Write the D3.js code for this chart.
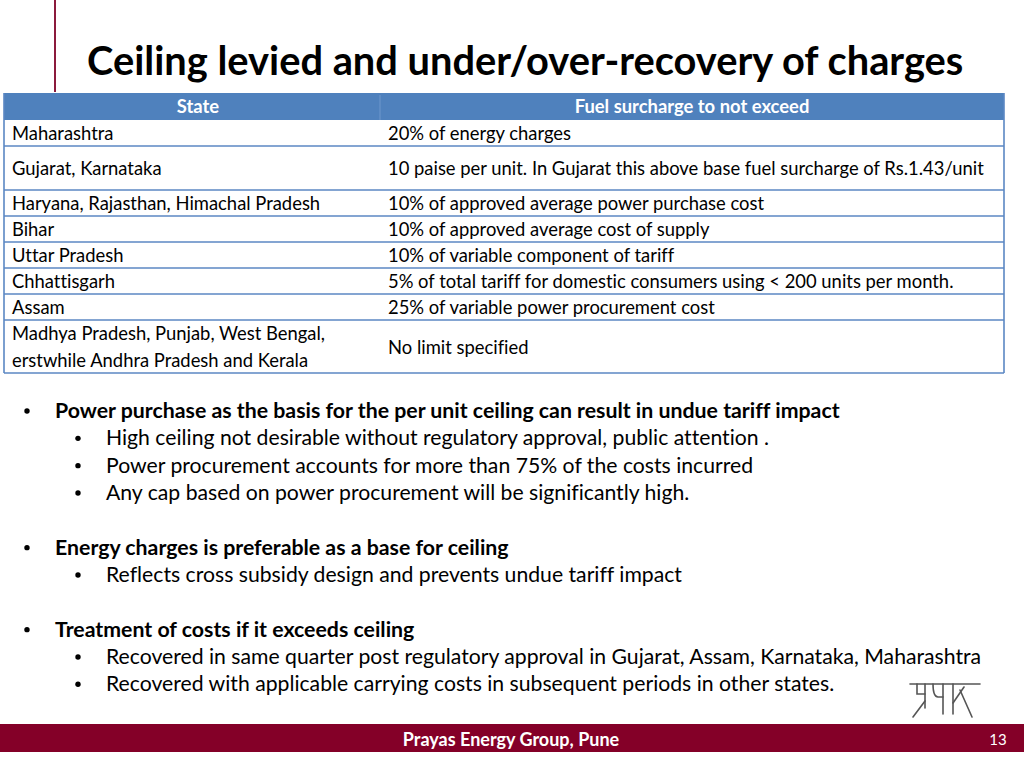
<!DOCTYPE html>
<html><head><meta charset="utf-8">
<script src="https://cdn.jsdelivr.net/npm/d3@7"></script>
<style>html,body{margin:0;padding:0;background:#fff;}svg{display:block;}text{font-variant-ligatures:none;font-feature-settings:"liga" 0;}</style>
</head><body>
<script>
// ---------- data ----------
const title = "Ceiling levied and under/over-recovery of charges";
const columns = ["State", "Fuel surcharge to not exceed"];
const states = [
  ["Maharashtra"],
  ["Gujarat, Karnataka"],
  ["Haryana, Rajasthan, Himachal Pradesh"],
  ["Bihar"],
  ["Uttar Pradesh"],
  ["Chhattisgarh"],
  ["Assam"],
  ["Madhya Pradesh, Punjab, West Bengal,", "erstwhile Andhra Pradesh and Kerala"]
];
const ceilings = [
  "20% of energy charges",
  "10 paise per unit. In Gujarat this above base fuel surcharge of Rs.1.43/unit",
  "10% of approved average power purchase cost",
  "10% of approved average cost of supply",
  "10% of variable component of tariff",
  "5% of total tariff for domestic consumers using < 200 units per month.",
  "25% of variable power procurement cost",
  "No limit specified"
];
const bulletHeads = [
  "Power purchase as the basis for the per unit ceiling can result in undue tariff impact",
  "Energy charges is preferable as a base for ceiling",
  "Treatment of costs if it exceeds ceiling"
];
const bulletSubs = [
  ["High ceiling not desirable without regulatory approval, public attention .",
   "Power procurement accounts for more than 75% of the costs incurred",
   "Any cap based on power procurement will be significantly high."],
  ["Reflects cross subsidy design and prevents undue tariff impact"],
  ["Recovered in same quarter post regulatory approval in Gujarat, Assam, Karnataka, Maharashtra",
   "Recovered with applicable carrying costs in subsequent periods in other states."]
];
const footerText = "Prayas Energy Group, Pune";
const pageNumber = "13";

// ---------- layout ----------
const W = 1024, H = 768;
const FONT = "Lato, 'Open Sans', sans-serif";
const MAROON = "#840028", BLUE = "#4f81bd", LINE = "#5b87c3";
const svg = d3.select("body").append("svg").attr("width", W).attr("height", H);

// left accent line
svg.append("line").attr("x1", 55).attr("x2", 55).attr("y1", 0).attr("y2", 92)
  .attr("stroke", "#8b1a3c").attr("stroke-width", 2);

svg.append("text").attr("x", 87).attr("y", 75).text(title)
  .attr("font-family", FONT).attr("font-weight", 700).attr("font-size", 39.8).attr("fill", "#000");

// table
const tX0 = 4, tX1 = 1004, colSplit = 380;
const headerTop = 93, headerH = 27;
const rowUnit = 26;
// row height in units (row 2 is taller, last row holds two lines)
const rowUnits = states.map((s, i) => i === 1 ? 44 / rowUnit : (s.length > 1 ? 53 / rowUnit : 1));
const cum = [0]; rowUnits.forEach(u => cum.push(cum[cum.length - 1] + u));
const y = d3.scaleLinear().domain([0, cum[cum.length - 1]])
  .range([headerTop + headerH, headerTop + headerH + cum[cum.length - 1] * rowUnit]);
const x = d3.scaleOrdinal().domain(columns).range([tX0, colSplit]);

const tbl = svg.append("g");
tbl.append("rect").attr("x", tX0).attr("y", headerTop).attr("width", tX1 - tX0).attr("height", headerH).attr("fill", BLUE);
tbl.append("line").attr("x1", colSplit).attr("x2", colSplit).attr("y1", headerTop + 2).attr("y2", headerTop + headerH)
  .attr("stroke", "#6e97cc").attr("stroke-width", 1);
tbl.selectAll("text.h").data(columns).join("text").attr("class", "h")
  .attr("x", (d, i) => i === 0 ? (tX0 + colSplit) / 2 + 6 : (colSplit + tX1) / 2)
  .attr("y", headerTop + headerH / 2 + 6.5).attr("text-anchor", "middle")
  .attr("font-family", FONT).attr("font-weight", 700).attr("font-size", 18.4).attr("fill", "#fff").text(d => d);

const rows = tbl.selectAll("g.row").data(states.map((s, i) => ({ s, c: ceilings[i], i })))
  .join("g").attr("class", "row");
rows.append("line").attr("x1", tX0).attr("x2", tX1)
  .attr("y1", d => y(cum[d.i + 1])).attr("y2", d => y(cum[d.i + 1]))
  .attr("stroke", LINE).attr("stroke-width", 1.6);
rows.each(function (d) {
  const g = d3.select(this);
  const top = y(cum[d.i]), bot = y(cum[d.i + 1]), mid = (top + bot) / 2;
  const n = d.s.length;
  d.s.forEach((line, k) => {
    g.append("text").attr("x", x(columns[0]) + 8).attr("y", mid + 6.5 + (k - (n - 1) / 2) * 27)
      .attr("font-family", FONT).attr("font-size", 18.4).attr("fill", "#000").text(line);
  });
  g.append("text").attr("x", x(columns[1]) + 8).attr("y", mid + 7)
    .attr("font-family", FONT).attr("font-size", 18.4).attr("fill", "#000").text(d.c);
});
const tBottom = y(cum[cum.length - 1]);
tbl.append("line").attr("x1", tX0).attr("x2", tX0).attr("y1", headerTop).attr("y2", tBottom).attr("stroke", LINE).attr("stroke-width", 1.6);
tbl.append("line").attr("x1", tX1).attr("x2", tX1).attr("y1", headerTop).attr("y2", tBottom).attr("stroke", LINE).attr("stroke-width", 1.6);

// bullets
const items = [];
bulletHeads.forEach((h, gi) => {
  if (gi > 0) items.push(null);
  items.push({ t: h, lvl: 1 });
  bulletSubs[gi].forEach(s => items.push({ t: s, lvl: 2 }));
});
const by = d3.scaleLinear().domain([0, 1]).range([418, 418 + 27.33]);
const bl = svg.append("g");
items.forEach((it, i) => {
  if (!it) return;
  const tx = it.lvl === 1 ? 55 : 106, bx = it.lvl === 1 ? 27 : 78;
  bl.append("circle").attr("cx", bx).attr("cy", by(i) - 7).attr("r", 2.7).attr("fill", "#000");
  bl.append("text").attr("x", tx).attr("y", by(i)).text(it.t)
    .attr("font-family", FONT).attr("font-size", it.lvl === 1 ? 21.3 : 21.2).attr("font-weight", it.lvl === 1 ? 700 : 400).attr("fill", "#000");
});

// logo
const logo = svg.append("g").attr("transform", "translate(900,670)")
  .attr("fill", "none").attr("stroke", "#555").attr("stroke-width", 1.6).attr("stroke-linecap", "round");
["M10,14 H80", "M17,14 V24 H25", "M25,14 V38", "M25,31 L13,47", "M33,14 Q33,27 38,27 H43", "M43,14 V44",
 "M53,14 V44", "M53,33 L64,17", "M60,20 L72,47"].forEach(p => logo.append("path").attr("d", p));

// footer
svg.append("rect").attr("x", 0).attr("y", 724).attr("width", W).attr("height", 28).attr("fill", MAROON);
svg.append("text").attr("x", 511).attr("y", 745.5).attr("text-anchor", "middle").text(footerText)
  .attr("font-family", FONT).attr("font-weight", 700).attr("font-size", 18).attr("fill", "#fff");
svg.append("text").attr("x", 998).attr("y", 745).attr("text-anchor", "middle").text(pageNumber)
  .attr("font-family", FONT).attr("font-size", 15).attr("fill", "#fff");
</script>
</body></html>
